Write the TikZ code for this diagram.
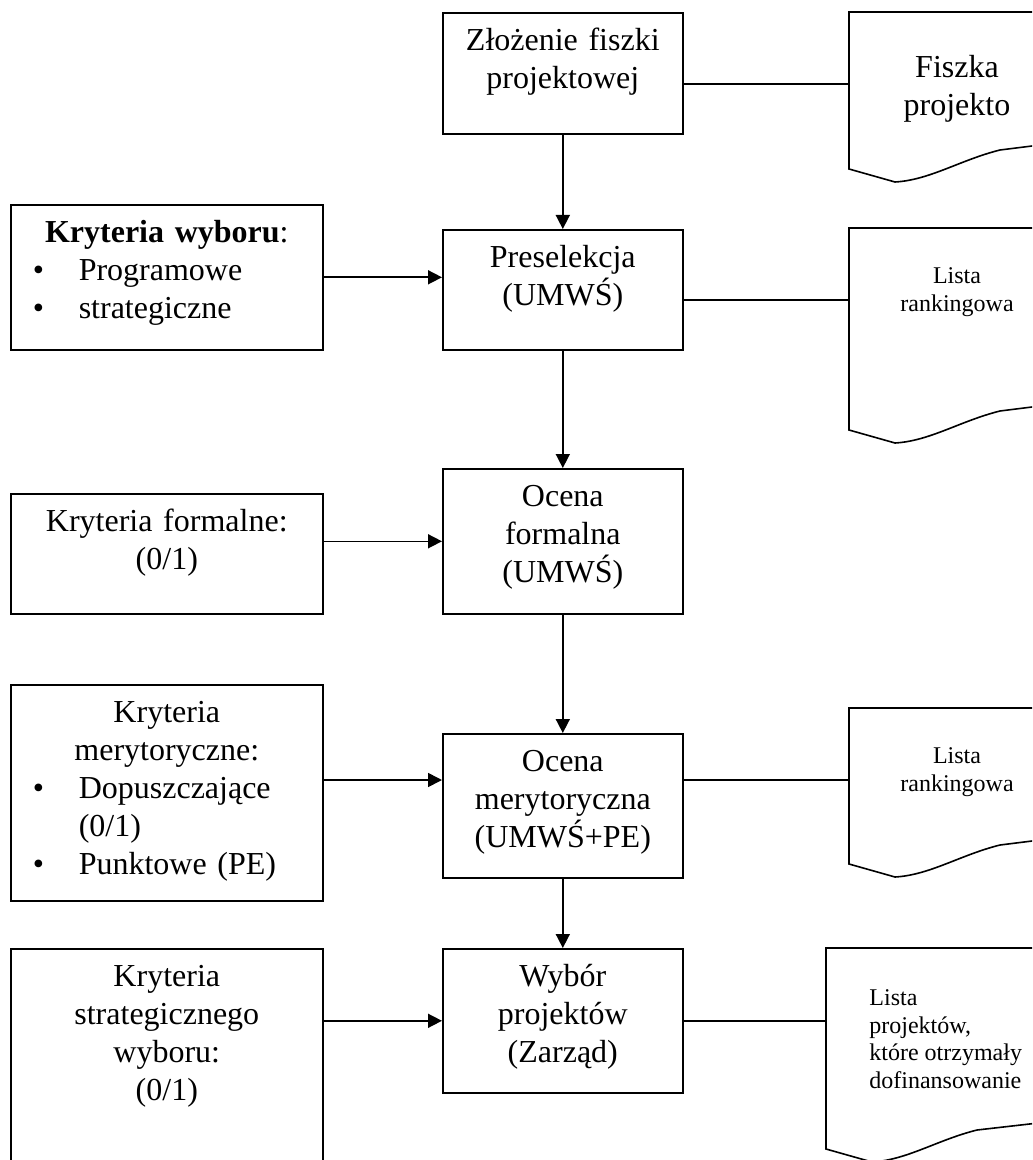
\documentclass[tikz,border=0pt]{standalone}
\usepackage{fontspec}
\setmainfont{Liberation Serif}
\usepackage{tikz}
\usetikzlibrary{arrows.meta, positioning, calc}

% bullet lines inside the criteria boxes
\newcommand{\bulitem}[1]{\makebox[\linewidth][l]{\hspace{6pt}\makebox[23pt][l]{\textbullet}#1}}
\newcommand{\bulcont}[1]{\makebox[\linewidth][l]{\hspace{29pt}#1}}

\begin{document}
\begin{tikzpicture}[x=0.5pt, y=-0.5pt, font=\fontsize{16}{19}\selectfont]
    % Styles
    \tikzstyle{stepbox} = [rectangle, draw, line width=0.8pt, anchor=north west, text width=110pt, align=center, inner xsep=5pt, inner ysep=7pt, text height=12pt]
    \tikzstyle{critbox} = [stepbox, text width=146pt]
    \tikzstyle{doctext} = [inner sep=0pt, align=center, font=\fontsize{12}{13.8}\selectfont]
    \tikzstyle{docline} = [draw, line width=0.8pt]
    \tikzstyle{line} = [draw, line width=0.8pt, -{Triangle[length=7pt, width=7pt]}]
    \tikzstyle{link} = [draw, line width=0.8pt]

    \useasboundingbox (0,0) rectangle (1032,1160);
    \clip (0,0) rectangle (1032,1160);

    % --- MAIN STEPS ---
    \node [stepbox, text depth=34.5pt] (zl) at (442,12) {Złożenie fiszki\\projektowej};
    \node [stepbox, text depth=34pt] (pre) at (442,229) {Preselekcja\\(UMWŚ)};
    \node [stepbox, text depth=46.5pt] (of) at (442,468) {Ocena\\formalna\\(UMWŚ)};
    \node [stepbox, text depth=46pt] (om) at (442,733) {Ocena\\merytoryczna\\(UMWŚ+PE)};
    \node [stepbox, text depth=46pt] (wyb) at (442,948) {Wybór\\projektów\\(Zarząd)};

    % --- CRITERIA ---
    \node [critbox, text depth=46.5pt] (kw) at (10,204) {\textbf{Kryteria wyboru}:\\\bulitem{Programowe}\\\bulitem{strategiczne}};
    \node [critbox, text depth=34pt] (kf) at (10,493) {Kryteria formalne:\\(0/1)};
    \node [critbox, text depth=82pt] (km) at (10,684) {Kryteria\\merytoryczne:\\\bulitem{Dopuszczające}\\\bulcont{(0/1)}\\\bulitem{Punktowe (PE)}};
    \node [critbox, text depth=87.5pt] (ks) at (10,948) {Kryteria\\strategicznego\\wyboru:\\(0/1)};

    % --- DOCUMENTS ---
    \draw [docline] (1040,12) -- (849,12) -- (849,169) -- ++(46,13) .. controls +(35,-2) and +(-40,10) .. ++(105,-32) -- ++(40,-5);
    \draw [docline] (1040,228) -- (849,228) -- (849,430) -- ++(46,13) .. controls +(35,-2) and +(-40,10) .. ++(105,-32) -- ++(40,-5);
    \draw [docline] (1040,708) -- (849,708) -- (849,864) -- ++(46,13) .. controls +(35,-2) and +(-40,10) .. ++(105,-32) -- ++(40,-5);
    \draw [docline] (1040,948) -- (826,948) -- (826,1149) -- ++(46,13) .. controls +(35,-2) and +(-40,10) .. ++(105,-32) -- ++(70,-8);

    \node [doctext, font=\fontsize{16}{19}\selectfont] (fiszka) at (957,89) {Fiszka\\projekto};
    \node [doctext] (rank1) at (957,292) {Lista\\rankingowa};
    \node [doctext] (rank2) at (957,772) {Lista\\rankingowa};
    \node [doctext, align=left, anchor=west] (lista) at (869,1039) {Lista\\projektów,\\które otrzymały\\dofinansowanie};

    \coordinate (d1in) at (849,84);
    \coordinate (d2in) at (849,300);
    \coordinate (d3in) at (849,780);
    \coordinate (d4in) at (826,1021);
    \coordinate (omin) at (442,780);

    % --- CONNECTIONS ---
    \path [line] (zl) -- (pre);
    \path [line] (pre) -- (of);
    \path [line] (of) -- (om);
    \path [line] (om) -- (wyb);

    \path [line] (kw.east) -- (kw.east -| pre.west);
    \path [line] (kf.east |- of.west) -- (of.west);
    \path [line] (km.east |- omin) -- (omin);
    \path [line] (ks.east |- wyb.west) -- (wyb.west);

    % document links
    \path [link] (zl.east |- d1in) -- (d1in);
    \path [link] (pre.east |- d2in) -- (d2in);
    \path [link] (om.east |- d3in) -- (d3in);
    \path [link] (wyb.east |- d4in) -- (d4in);

\end{tikzpicture}
\end{document}
